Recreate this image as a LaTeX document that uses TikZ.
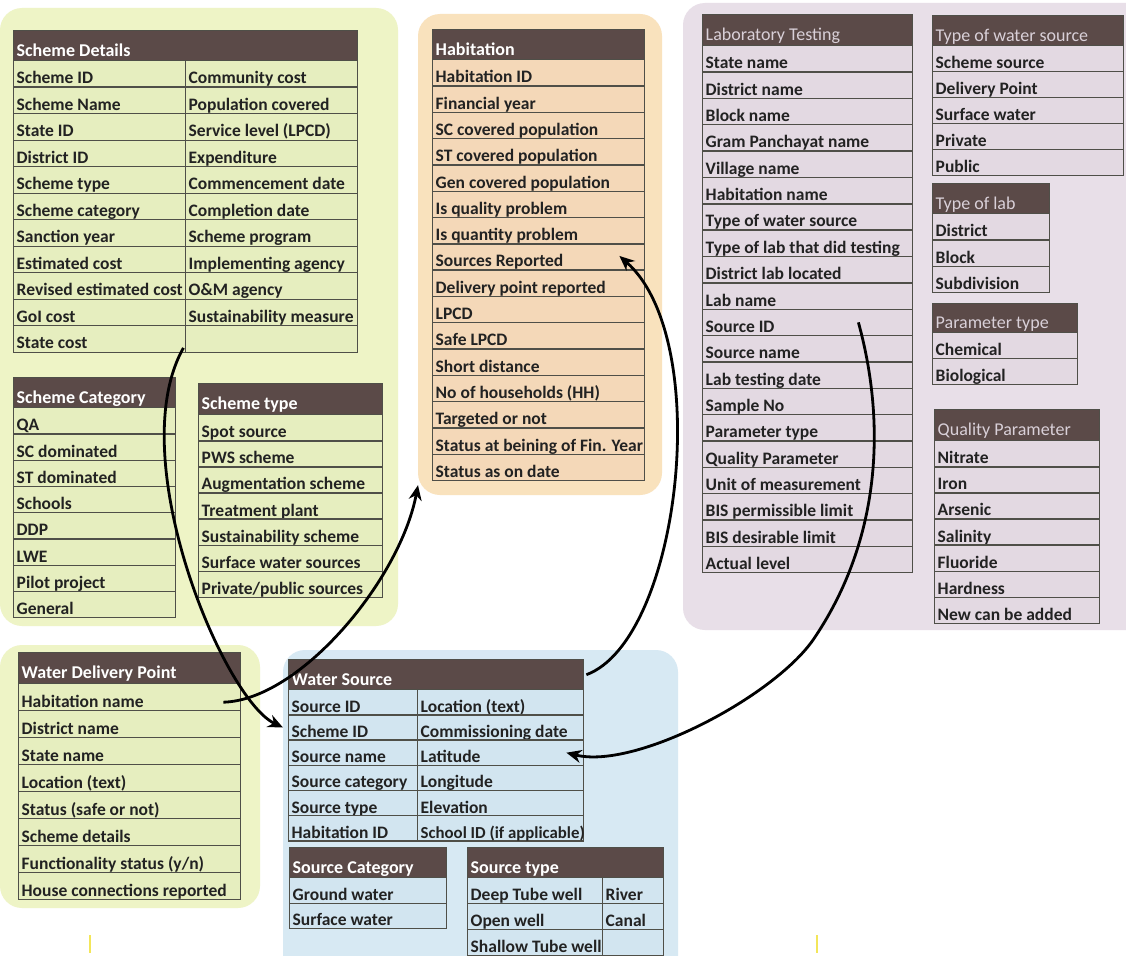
\documentclass[tikz,border=0pt]{standalone}
\usepackage{fontspec}
\setmainfont{Carlito}
\usetikzlibrary{arrows.meta}

\definecolor{greenbg}{HTML}{EEF4C6}
\definecolor{greencell}{HTML}{E6EEBF}
\definecolor{orangebg}{HTML}{F9E2BD}
\definecolor{orangecell}{HTML}{F4D8B8}
\definecolor{purplebg}{HTML}{E8DFE8}
\definecolor{purplecell}{HTML}{E3D9E2}
\definecolor{bluebg}{HTML}{D7E9F3}
\definecolor{bluecell}{HTML}{D2E5F0}
\definecolor{hdrfill}{HTML}{5B4A48}
\definecolor{gridline}{HTML}{4F4F48}
\definecolor{textcol}{HTML}{222222}
\definecolor{hdrpale}{HTML}{D9D0D8}
\definecolor{tickyellow}{HTML}{F3E65A}

\tikzset{
  region/.style={rounded corners=22pt, draw=none},
  cellbase/.style={draw=gridline, line width=1.4pt, inner xsep=3pt, inner ysep=0pt,
    text height=20pt, text depth=0pt, text=textcol,
    font=\fontsize{17.5}{20}\selectfont\bfseries},
  gcell/.style={cellbase, fill=greencell},
  ocell/.style={cellbase, fill=orangecell},
  pcell/.style={cellbase, fill=purplecell},
  bcell/.style={cellbase, fill=bluecell},
  hdr/.style={draw=gridline, line width=1.4pt, fill=hdrfill, inner xsep=3pt, inner ysep=0pt,
    text height=21pt, text depth=0pt, text=white,
    font=\fontsize{18}{20}\selectfont\bfseries},
  hdrlab/.style={hdr, text=hdrpale, font=\fontsize{18}{20}\selectfont},
  link/.style={line width=2.8pt, black, -{Stealth[length=15pt,width=13pt]}}
}

% table title bar: name, x1, x2, top, bottom, style, title
\newcommand\tablehead[7]{%
  \node[#6, minimum width={(#3-#2)*1pt}, minimum height={(#5-#4)*1pt}, anchor=north west]
    (#1) at (#2,#4) {\makebox[\dimexpr#3pt-#2pt-6pt\relax][l]{#7}};}

% column of cells: name, x1, x2, first top, row pitch, style, entries
\newcommand\tablerows[7]{%
  \foreach \txt [count=\i] in {#7} {
    \node[#6, minimum width={(#3-#2)*1pt}, minimum height={#5*1pt}, anchor=north west]
      (#1-\i) at (#2,{#4+(\i-1)*#5}) {\makebox[\dimexpr#3pt-#2pt-6pt\relax][l]{\txt}};
  }}

\begin{document}
\begin{tikzpicture}[x=1pt,y=-1pt]
\useasboundingbox (0,0) rectangle (1126,955);
\fill[white] (0,0) rectangle (1126,955);

% coloured groups
\fill[region, greenbg]  (0,8) rectangle (398,626);
\fill[region, greenbg]  (0,645) rectangle (260,908);
\fill[region, orangebg] (418,14) rectangle (662,495);
\fill[region, purplebg] (683,3) rectangle (1150,630);
\fill[region, bluebg]   (283,650) rectangle (678,990);

% Scheme Details
\tablehead{sd}{13}{357}{30}{60}{hdr}{Scheme Details}
\tablerows{sda}{13}{185}{60}{26.5}{gcell}{Scheme ID,Scheme Name,State ID,District ID,Scheme type,Scheme category,Sanction year,Estimated cost,Revised estimated cost,GoI cost,State cost}
\tablerows{sdb}{185}{357}{60}{26.5}{gcell}{Community cost,Population covered,Service level (LPCD),Expenditure,Commencement date,Completion date,Scheme program,Implementing agency,O\&M agency,Sustainability measure,{}}

% Scheme Category
\tablehead{sc}{13}{175}{377}{407}{hdr}{Scheme Category}
\tablerows{sc}{13}{175}{407}{26.25}{gcell}{QA,SC dominated,ST dominated,Schools,DDP,LWE,Pilot project,General}

% Scheme type
\tablehead{st}{198}{382}{383}{414}{hdr}{Scheme type}
\tablerows{st}{198}{382}{414}{26.1}{gcell}{Spot source,PWS scheme,Augmentation scheme,Treatment plant,Sustainability scheme,Surface water sources,Private/public sources}

% Water Delivery Point
\tablehead{wdp}{18}{240}{652}{683}{hdr}{Water Delivery Point}
\tablerows{wdp}{18}{240}{683}{27}{gcell}{Habitation name,District name,State name,Location (text),Status (safe or not),Scheme details,Functionality status (y/n),House connections reported}

% Habitation
\tablehead{hab}{432}{644}{29}{59}{hdr}{Habitation}
\tablerows{hab}{432}{644}{59}{26.3}{ocell}{Habitation ID,Financial year,SC covered population,ST covered population,Gen covered population,Is quality problem,Is quantity problem,Sources Reported,Delivery point reported,LPCD,Safe LPCD,Short distance,No of households (HH),Targeted or not,Status at beining of Fin. Year,Status as on date}

% Laboratory Testing
\tablehead{lab}{702}{912}{14}{45}{hdrlab}{Laboratory Testing}
\tablerows{lab}{702}{912}{45}{26.35}{pcell}{State name,District name,Block name,Gram Panchayat name,Village name,Habitation name,Type of water source,Type of lab that did testing,District lab located,Lab name,Source ID,Source name,Lab testing date,Sample No,Parameter type,Quality Parameter,Unit of measurement,BIS permissible limit,BIS desirable limit,Actual level}

% Type of water source
\tablehead{tws}{932}{1123}{15}{45}{hdrlab}{Type of water source}
\tablerows{tws}{932}{1123}{45}{26}{pcell}{Scheme source,Delivery Point,Surface water,Private,Public}

% Type of lab
\tablehead{tol}{932}{1049}{183}{213}{hdrlab}{Type of lab}
\tablerows{tol}{932}{1049}{213}{26.3}{pcell}{District,Block,Subdivision}

% Parameter type
\tablehead{pt}{932}{1077}{303}{332}{hdrlab}{Parameter type}
\tablerows{pt}{932}{1077}{332}{26}{pcell}{Chemical,Biological}

% Quality Parameter
\tablehead{qp}{934}{1099}{409}{440}{hdrlab}{Quality Parameter}
\tablerows{qp}{934}{1099}{440}{26.1}{pcell}{Nitrate,Iron,Arsenic,Salinity,Fluoride,Hardness,New can be added}

% Water Source
\tablehead{ws}{288}{583}{659}{689}{hdr}{Water Source}
\tablerows{wsa}{288}{417}{689}{25.2}{bcell}{Source ID,Scheme ID,Source name,Source category,Source type,Habitation ID}
\tablerows{wsb}{417}{583}{689}{25.2}{bcell}{Location (text),Commissioning date,Latitude,Longitude,Elevation,{\fontsize{16.8}{20}\selectfont School ID (if applicable)}}

% Source Category
\tablehead{scat}{289}{446}{847}{877}{hdr}{Source Category}
\tablerows{scat}{289}{446}{877}{25.5}{bcell}{Ground water,Surface water}

% Source type
\tablehead{stype}{467}{663}{847}{877}{hdr}{Source type}
\tablerows{stypea}{467}{602}{877}{26}{bcell}{Deep Tube well,Open well,Shallow Tube well}
\tablerows{stypeb}{602}{663}{877}{26}{bcell}{River,Canal,{}}

% links between tables
\draw[link] ([xshift=-3pt,yshift=5pt]sda-11.south east)
  .. controls (122,457) and (223,699) .. ([xshift=-5pt]wsa-2.west);
\draw[link] ([xshift=-18pt,yshift=-5pt]wdp-1.east)
  .. controls (300,700) and (400,580) .. ([xshift=-14pt,yshift=-4pt]hab-16.south west);
\draw[link] ([xshift=2pt]ws.east)
  .. controls (680,640) and (715,340) .. ([xshift=-26pt,yshift=1pt]hab-8.east);
\draw[link] ([xshift=-55pt]lab-11.east)
  .. controls (888,430) and (878,545) .. (813,640)
  .. controls (773,697) and (635,770) .. ([xshift=-18pt]wsb-3.east);

% small yellow marks along the bottom edge
\draw[tickyellow, line width=1.5pt] (90,935) -- (90,953);
\draw[tickyellow, line width=1.5pt] (817,935) -- (817,953);
\end{tikzpicture}
\end{document}
